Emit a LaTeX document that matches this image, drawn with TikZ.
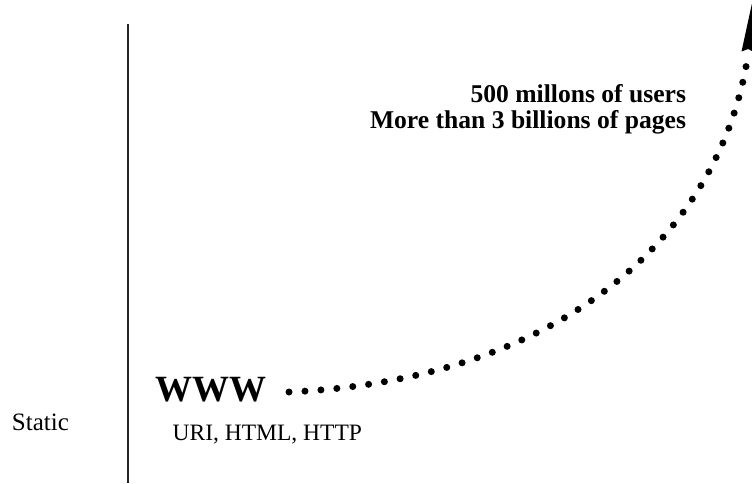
\documentclass[tikz,border=0pt]{standalone}
\usepackage{fontspec}
\setmainfont{Liberation Serif}
\begin{document}
\begin{tikzpicture}[x=1pt,y=-1pt,
  label text/.style={inner sep=0pt, outer sep=0pt},
  growth/.style={line width=7pt, line cap=round, dash pattern=on 0pt off 16pt},
  divider/.style={line width=1.3pt, draw=black!85},
  headfill/.style={fill=black},
  figure/.style={font=\bfseries\fontsize{25.6}{30}\selectfont}]
\useasboundingbox (0,0) rectangle (752,483);

% vertical divider between the era label and the timeline
\draw[divider] (128,24) -- (128,483);

% labels
\node[label text, anchor=base west, font=\fontsize{25}{30}\selectfont] (static) at (12,430) {Static};
\node[label text, anchor=base west, font=\bfseries\fontsize{37}{44}\selectfont] (www) at (155,401.7) {WWW};
\node[label text, anchor=base west, font=\fontsize{23.5}{28}\selectfont] (tech) at (172.7,440.7) {URI, HTML, HTTP};
\node[label text, anchor=base east, figure] (users) at (686,102.5) {500 millons of users};
\node[label text, anchor=base east, figure] (pages) at (686,128.5) {More than 3 billions of pages};

% growth curve
\coordinate (start) at (289,392);
\coordinate (curveend) at (748,55);
\draw[growth] (start) .. controls (560,380) and (720,237) .. (curveend);

% arrow head at the top of the curve
\coordinate (tip) at (751.8,4.2);
\coordinate (lcorner) at (741.5,51.5);
\coordinate (rcorner) at (754.5,52.5);
\coordinate (notch) at (748.2,49);
\fill[headfill] (tip) -- (rcorner) -- (notch) -- (lcorner) -- cycle;
\end{tikzpicture}
\end{document}
